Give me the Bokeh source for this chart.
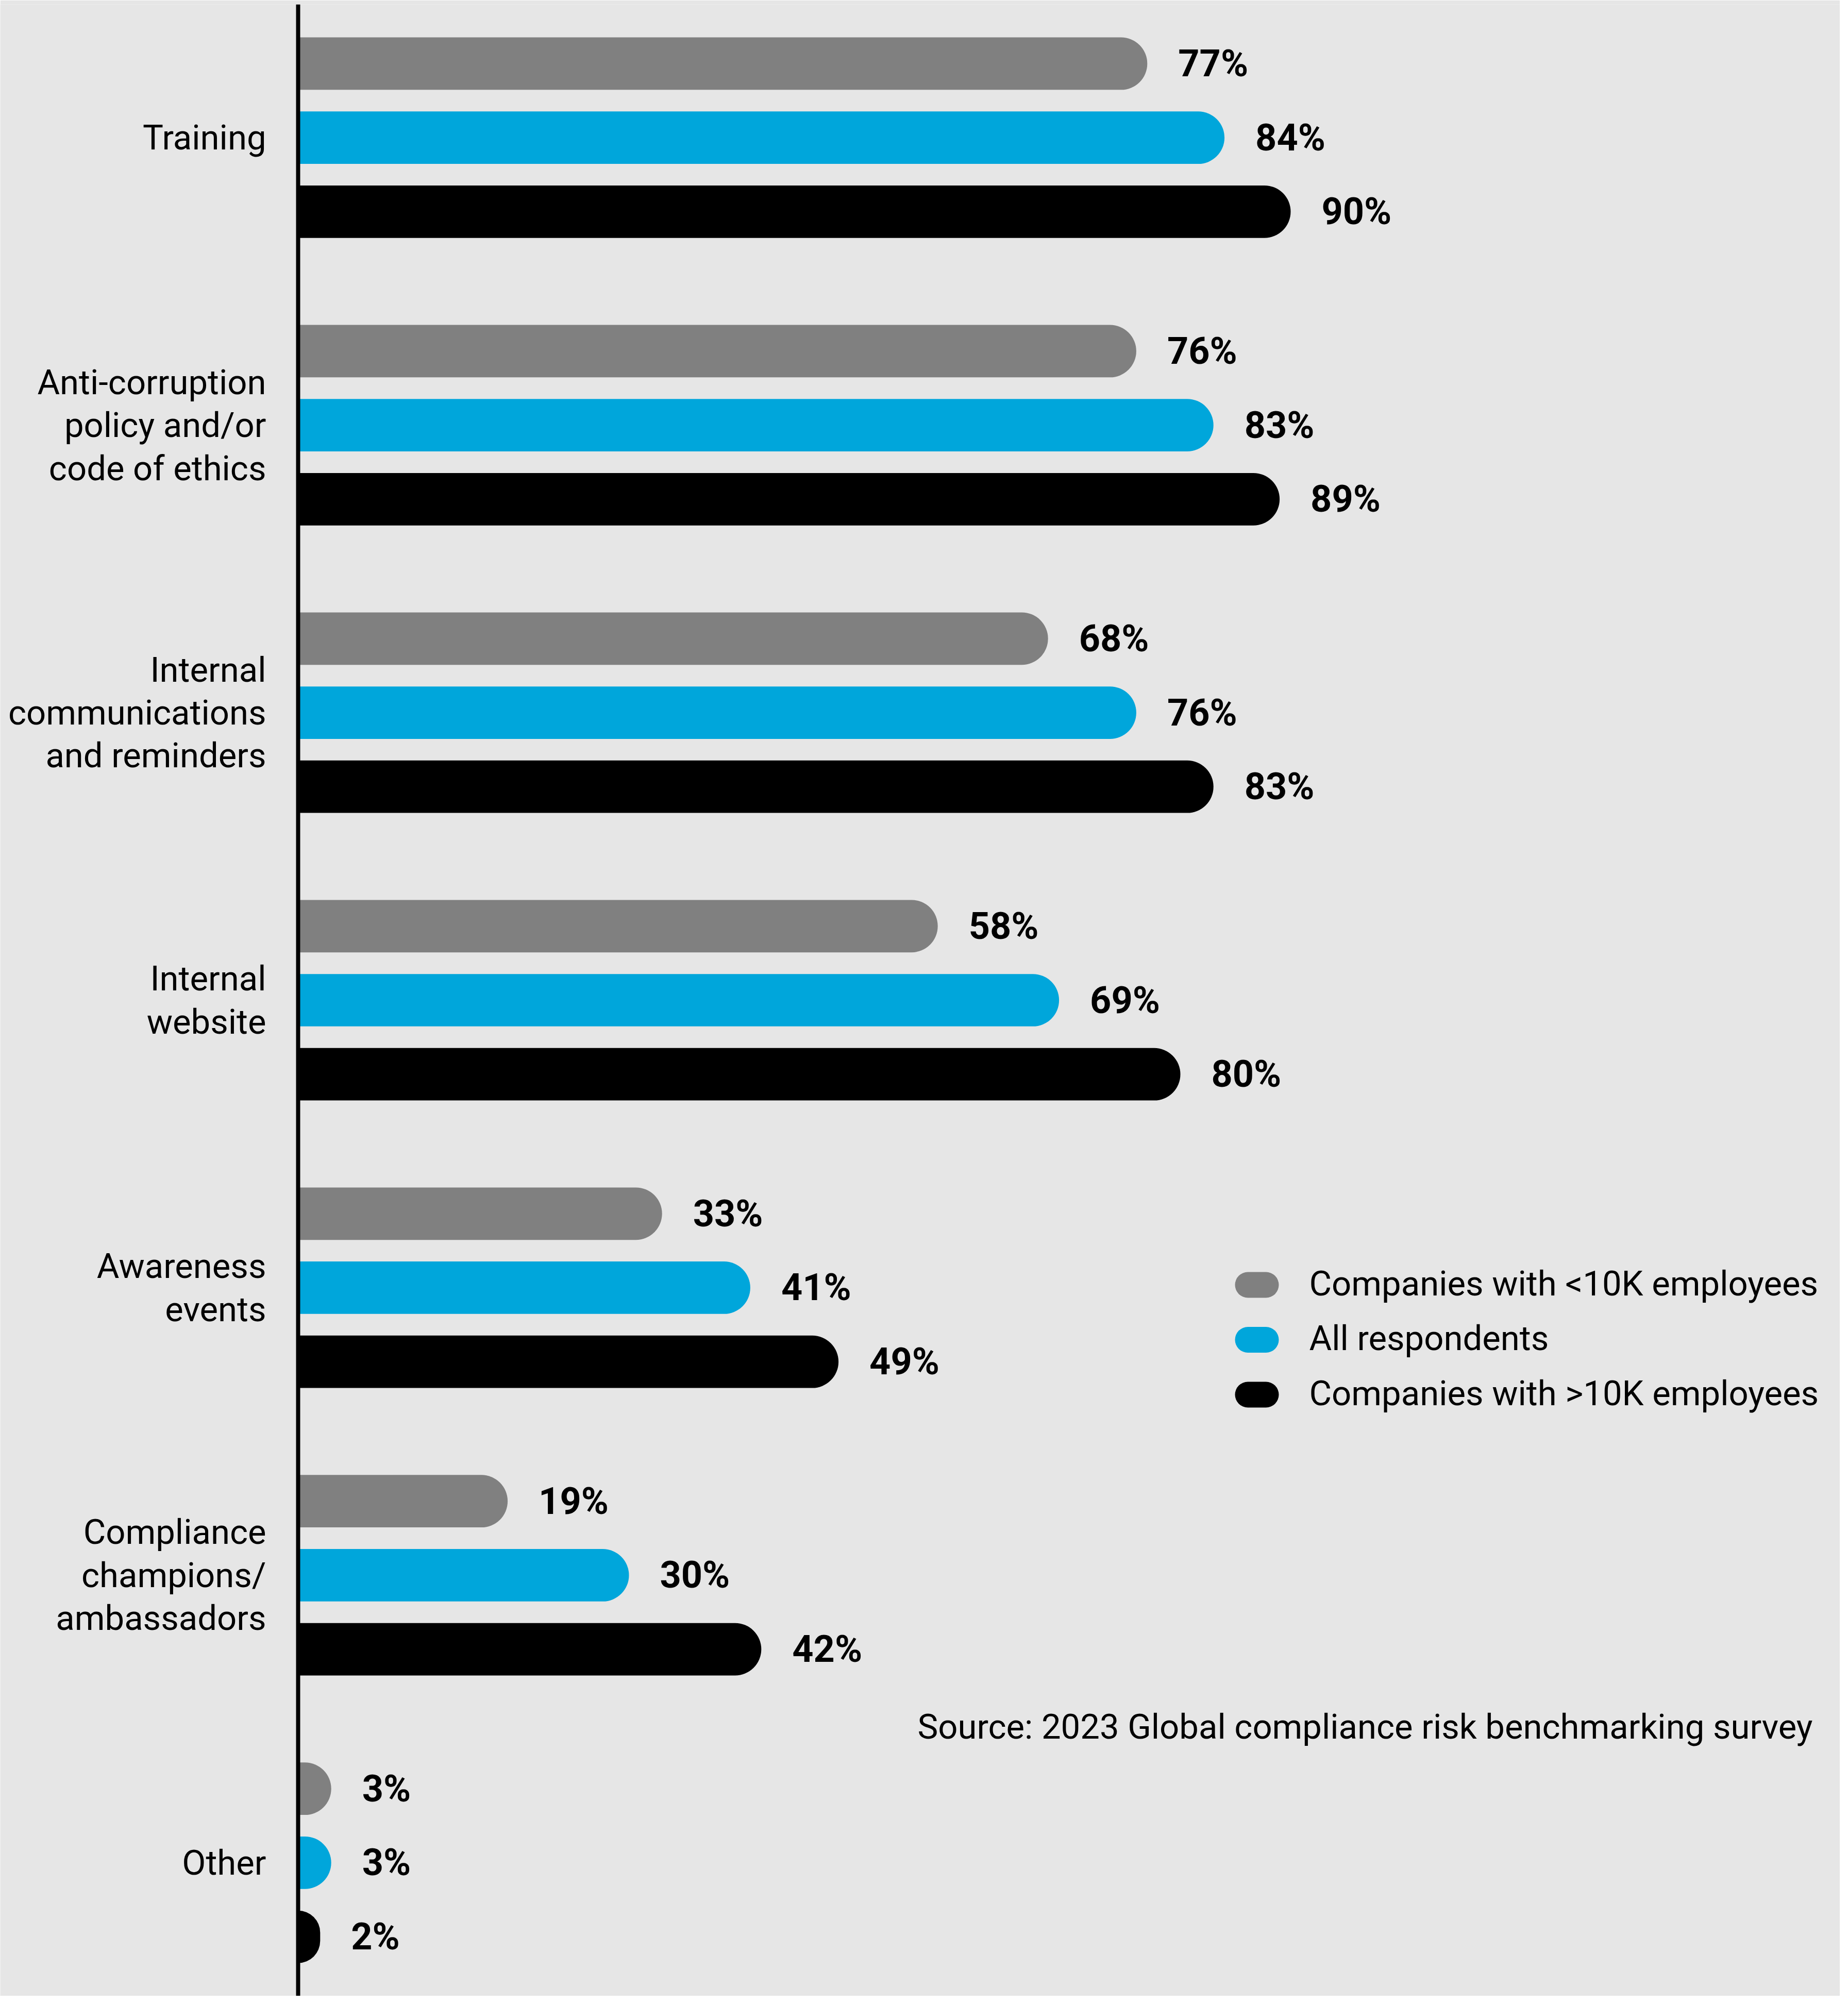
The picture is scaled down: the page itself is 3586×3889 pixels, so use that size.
from bokeh.plotting import figure
from bokeh.models import ColumnDataSource, FactorRange, Range1d, Span, Label, BoxAnnotation
from bokeh.core.properties import value
from bokeh.embed import file_html
from bokeh.resources import INLINE

# ---------------- data ----------------
categories = [
    "Training",
    "Anti-corruption\npolicy and/or\ncode of ethics",
    "Internal\ncommunications\nand reminders",
    "Internal\nwebsite",
    "Awareness\nevents",
    "Compliance\nchampions/\nambassadors",
    "Other",
]
series = [
    "Companies with <10K employees",
    "All respondents",
    "Companies with >10K employees",
]
under_10k = [77, 76, 68, 58, 33, 19, 3]
all_respondents = [84, 83, 76, 69, 41, 30, 3]
over_10k = [90, 89, 83, 80, 49, 42, 2]
source_note = "Source: 2023 Global compliance risk benchmarking survey"

# ---------------- style ----------------
W, H = 3570, 3873
TOP = 8
BG = "#E6E6E6"
COLORS = ["#808080", "#00A6DB", "#000000"]
PX_PER_PCT = 21.4
ZERO_PX = 578
BAR_H = 0.708
RADIUS = 51
FONT_NAME = "Roboto"
LABEL_FONT = value(FONT_NAME)
VALUE_FONT = value(FONT_NAME)

values_by_series = [under_10k, all_respondents, over_10k]

ys, vs, cs, labels = [], [], [], []
for ci, cat in enumerate(categories):
    for si, s in enumerate(series):
        v = values_by_series[si][ci]
        ys.append((cat, s))
        vs.append(v)
        cs.append(COLORS[si])
        labels.append(f"{v}%")
bars = ColumnDataSource(dict(y=ys, v=vs, c=cs, lbl=labels))
cats = ColumnDataSource(dict(y=[(c, series[1]) for c in categories], t=categories, x=[0] * len(categories)))

factors = [(c, s) for c in reversed(categories) for s in reversed(series)]
y_range = FactorRange(factors=factors, factor_padding=0.0, group_padding=0.883,
                      range_padding=0.3, range_padding_units="absolute")
x_range = Range1d(-ZERO_PX / PX_PER_PCT, (W - ZERO_PX) / PX_PER_PCT)

p = figure(width=W, height=H, x_range=x_range, y_range=y_range,
           output_backend="svg", toolbar_location=None,
           x_axis_location=None, y_axis_location=None,
           min_border=0, min_border_top=TOP,
           background_fill_color=BG, border_fill_color=BG,
           outline_line_color=None)
p.xgrid.visible = False
p.ygrid.visible = False

p.hbar(y="y", left=0, right="v", height=BAR_H, fill_color="c", line_color=None,
       source=bars, border_radius=(0, RADIUS, RADIUS, 0))

p.text(x="v", y="y", text="lbl", source=bars, x_offset=60,
       text_align="left", text_baseline="middle", text_font=VALUE_FONT,
       text_font_style="bold", text_font_size="72px", text_color="black")

p.text(x="x", y="y", text="t", source=cats, x_offset=-62,
       text_align="right", text_baseline="middle", text_font=LABEL_FONT,
       text_font_size="67px", text_line_height=1.07, text_color="black")

p.add_layout(Span(location=0, dimension="height", line_color="black", line_width=8))

# legend (manual, pill-shaped swatches), positioned in screen pixels
def sx(px):
    return px

def sy(py):  # screen units counted from the bottom of the frame
    return H - py

LEG_X0, LEG_X1, LEG_TX = 2396, 2481, 2540
LEG_Y0, LEG_DY, LEG_H = 2493, 106.5, 50
for i, (name, col) in enumerate(zip(series, COLORS)):
    cy = LEG_Y0 + i * LEG_DY
    p.add_layout(BoxAnnotation(left=sx(LEG_X0), right=sx(LEG_X1),
                               top=sy(cy - LEG_H / 2), bottom=sy(cy + LEG_H / 2),
                               left_units="screen", right_units="screen",
                               top_units="screen", bottom_units="screen",
                               fill_color=col, fill_alpha=1.0, line_color=None,
                               border_radius=LEG_H // 2, level="annotation"))
    p.add_layout(Label(x=sx(LEG_TX), y=sy(cy - 3), x_units="screen", y_units="screen",
                       text=name, text_align="left", text_baseline="middle",
                       text_font=FONT_NAME, text_font_size="67px", text_color="black"))

p.add_layout(Label(x=sx(1780), y=sy(3350), x_units="screen", y_units="screen",
                   text=source_note, text_align="left", text_baseline="middle",
                   text_font=FONT_NAME, text_font_size="67px", text_color="black"))

html = file_html(p, INLINE)
html = html.replace("<body>", '<body style="background:#E6E6E6">', 1)
open("out.html", "w").write(html)
